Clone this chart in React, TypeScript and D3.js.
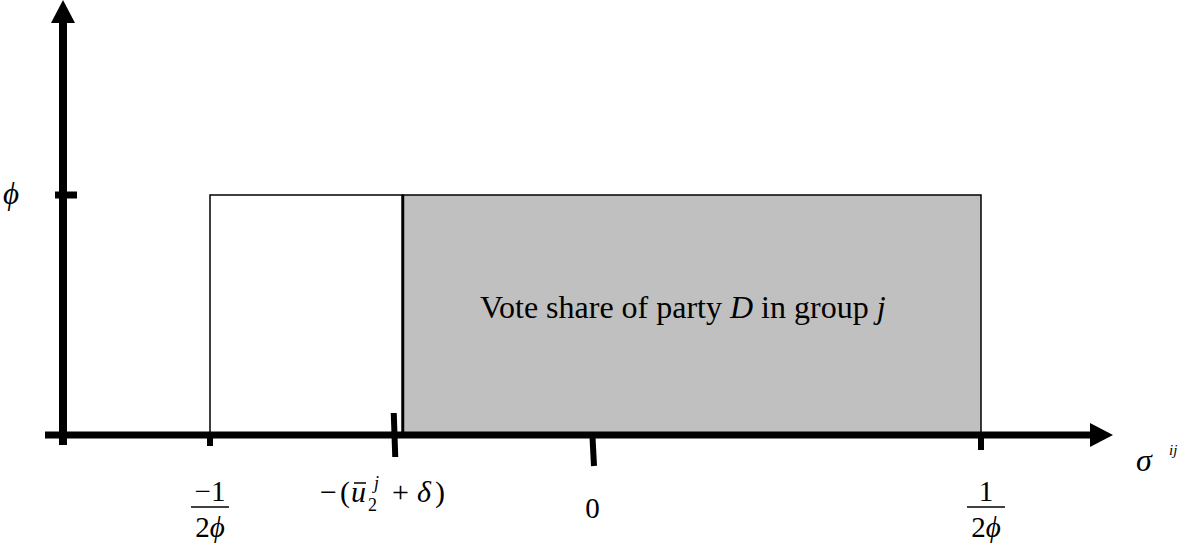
import React from 'react';
import * as d3 from 'd3';

// values on the sigma axis (phi = 1, so 1/(2phi) = 0.5)
const phi = 1;
const lowerBound = -1 / (2 * phi);
const upperBound = 1 / (2 * phi);
const cutoff = -0.25; // -(u2j + delta)
const tickValues = [lowerBound, cutoff, 0, upperBound];
const shadedLabel = ['Vote share of party ', 'D', ' in group ', 'j'];

const W = 1179;
const H = 547;
const FONT = '"Liberation Serif", "Times New Roman", serif';

// tick marks below the axis: [top, bottom] offsets relative to axis line
const tickShape: Record<number, [number, number]> = {
  0: [0, 11],
  1: [-22, 22],
  2: [2, 31],
  3: [2, 15],
};

export default function App() {
  const x = d3.scaleLinear().domain([lowerBound, upperBound]).range([210, 981]);
  const y = d3.scaleLinear().domain([0, phi]).range([435, 195]);

  const axisY = y(0);
  const axisX = 63;
  const xEnd = 1090;
  const yTop = 23;

  const fracLabel = (cx: number, num: string) => (
    <g>
      <text x={cx} y={501} textAnchor="middle" fontSize={29} fontFamily={FONT}>
        {num}
      </text>
      <line x1={cx - 19} x2={cx + 19} y1={507} y2={507} stroke="#000" strokeWidth={1.5} />
      <text x={cx} y={537} textAnchor="middle" fontSize={29} fontFamily={FONT}>
        2<tspan fontStyle="italic">ϕ</tspan>
      </text>
    </g>
  );

  return (
    <svg
      width={W}
      height={H}
      style={{ position: 'absolute', left: 0, top: 0, background: '#fff' }}
    >
      {/* unshaded part of density */}
      <rect
        x={x(lowerBound)}
        y={y(phi)}
        width={x(cutoff) - x(lowerBound)}
        height={axisY - y(phi)}
        fill="#fff"
        stroke="#000"
        strokeWidth={1.5}
      />
      {/* shaded part */}
      <rect
        x={x(cutoff)}
        y={y(phi)}
        width={x(upperBound) - x(cutoff)}
        height={axisY - y(phi)}
        fill="#c0c0c0"
        stroke="#000"
        strokeWidth={1.5}
      />
      <line
        x1={x(cutoff)}
        x2={x(cutoff)}
        y1={y(phi)}
        y2={axisY}
        stroke="#000"
        strokeWidth={3}
      />

      <text x={480} y={318} fontSize={32} fontFamily={FONT}>
        {shadedLabel[0]}
        <tspan fontStyle="italic">{shadedLabel[1]}</tspan>
        {shadedLabel[2]}
        <tspan fontStyle="italic">{shadedLabel[3]}</tspan>
      </text>

      {/* x axis */}
      <line x1={45} x2={xEnd} y1={axisY} y2={axisY} stroke="#000" strokeWidth={7} />
      <path
        d={`M${xEnd},${axisY - 12} L${1113},${axisY} L${xEnd},${axisY + 12} Z`}
        fill="#000"
      />
      {/* y axis */}
      <line x1={axisX} x2={axisX} y1={445} y2={yTop} stroke="#000" strokeWidth={8} />
      <path d={`M${axisX - 12},${yTop} L${axisX},0 L${axisX + 12},${yTop} Z`} fill="#000" />
      <line x1={55} x2={77} y1={y(phi)} y2={y(phi)} stroke="#000" strokeWidth={7} />

      <text x={3} y={204} fontSize={31} fontStyle="italic" fontFamily={FONT}>
        ϕ
      </text>

      {/* ticks */}
      {tickValues.map((v, i) => {
        const [t, b] = tickShape[i];
        const tx = x(v) + (i === 1 ? -9 : i === 2 ? -3 : 0);
        return (
          <line
            key={i}
            x1={tx}
            x2={tx + (i === 2 || i === 1 ? 1.5 : 0)}
            y1={axisY + t}
            y2={axisY + b}
            stroke="#000"
            strokeWidth={6}
          />
        );
      })}

      {/* tick labels */}
      {fracLabel(x(lowerBound), '−1')}
      {fracLabel(x(upperBound) + 5, '1')}
      <text x={x(0) - 3} y={518} textAnchor="middle" fontSize={29} fontFamily={FONT}>
        0
      </text>
      <g fontFamily={FONT} fontSize={30}>
        <text x={320} y={502}>−</text>
        <text x={340} y={502}>(</text>
        <text x={351} y={502} fontStyle="italic">u</text>
        <line x1={354} x2={366} y1={483} y2={483} stroke="#000" strokeWidth={1.5} />
        <text x={368} y={511} fontSize={18}>2</text>
        <text x={374} y={489} fontSize={18} fontStyle="italic">j</text>
        <text x={392} y={502}>+</text>
        <text x={417} y={502} fontStyle="italic">δ</text>
        <text x={435} y={502}>)</text>
      </g>

      {/* sigma label */}
      <text x={1136} y={471} fontSize={32} fontStyle="italic" fontFamily={FONT}>
        σ
      </text>
      <text x={1169} y={455} fontSize={15} fontStyle="italic" fontFamily={FONT}>
        ij
      </text>
    </svg>
  );
}
